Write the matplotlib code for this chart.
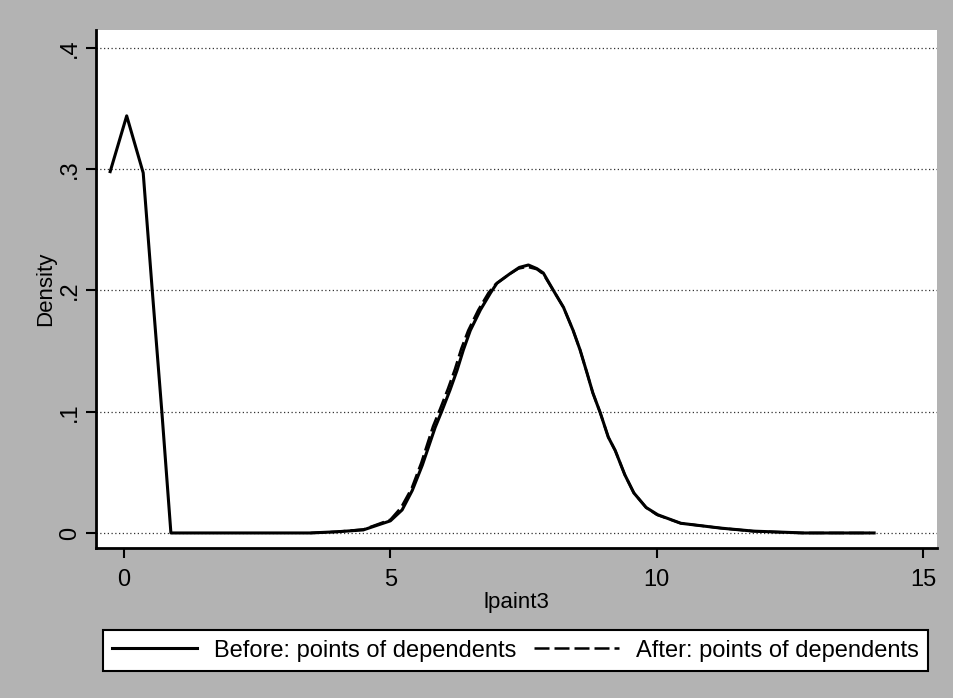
import matplotlib
matplotlib.use("Agg")
import matplotlib.pyplot as plt

plt.rcParams['font.family'] = ['Liberation Sans', 'DejaVu Sans']

# Data
before_x = [-0.26, 0.05, 0.36, 0.53, 0.71, 0.88, 1.5, 2.5, 3.5, 4.0, 4.49, 5.0, 5.22, 5.41, 5.6,
            5.84, 5.97, 6.12, 6.25, 6.37, 6.5, 6.69, 6.88, 7.0, 7.25, 7.42, 7.59, 7.75, 7.87,
            8.06, 8.25, 8.43, 8.56, 8.69, 8.8, 8.94, 9.09, 9.22, 9.4, 9.57, 9.8, 10.02,
            10.45, 11.2, 11.82, 12.76, 14.08]
before_y = [0.298, 0.344, 0.297, 0.200, 0.100, 0.0, 0.0, 0.0, 0.0, 0.001, 0.0025, 0.010, 0.019,
            0.035, 0.056, 0.087, 0.101, 0.118, 0.134, 0.151, 0.167, 0.184, 0.198, 0.206, 0.214,
            0.219, 0.221, 0.218, 0.2144, 0.200, 0.186, 0.167, 0.151, 0.132, 0.1155, 0.099,
            0.079, 0.068, 0.048, 0.033, 0.021, 0.015, 0.008, 0.004, 0.0015, 0.0, 0.0]
after_x = [3.5, 4.0, 4.5, 5.0, 5.2, 5.4, 5.58, 5.8, 5.93, 6.08, 6.21, 6.33, 6.46, 6.65, 6.84,
           6.97, 7.22, 7.4, 7.57, 7.75, 7.87, 8.06, 8.25, 8.43, 8.56, 8.69, 8.8, 8.94, 9.09,
           9.22, 9.4, 9.57, 9.8, 10.0, 10.45, 11.2, 11.8, 12.7, 14.0]
after_y = [0.0, 0.001, 0.003, 0.011, 0.021, 0.037, 0.058, 0.088, 0.102, 0.119, 0.135, 0.152,
           0.167, 0.184, 0.198, 0.205, 0.213, 0.218, 0.2195, 0.2175, 0.2135, 0.200, 0.186,
           0.167, 0.151, 0.132, 0.1155, 0.099, 0.079, 0.068, 0.048, 0.033, 0.021, 0.015,
           0.008, 0.004, 0.0015, 0.0, 0.0]
xticks = [0, 5, 10, 15]
yticks = [0, 0.1, 0.2, 0.3, 0.4]
ytick_labels = ['0', '.1', '.2', '.3', '.4']
series_labels = ['Before: points of dependents', 'After: points of dependents']
xlabel = 'lpaint3'
ylabel = 'Density'

fig = plt.figure(figsize=(9.54, 6.98), dpi=100, facecolor='#b3b3b3')
ax = fig.add_axes([96/954, 150/698, (937-96)/954, (548-30)/698])
ax.set_facecolor('white')

for y in yticks:
    ax.axhline(y, color='#333333', lw=0.9, ls=(0, (1, 2)), zorder=1)

l1, = ax.plot(before_x, before_y, color='black', lw=2.2, zorder=3, label=series_labels[0])
l2, = ax.plot(after_x, after_y, color='black', lw=1.8, ls=(0, (6, 2)), zorder=4,
              label=series_labels[1])

ax.set_xlim(-0.526, 15.26)
ax.set_ylim(-0.0124, 0.4148)
ax.set_xticks(xticks)
ax.set_yticks(yticks)
ax.set_yticklabels(ytick_labels, rotation=90, va='center')
ax.tick_params(axis='both', labelsize=17, length=7, width=1.5, direction='out', color='black')
ax.tick_params(axis='y', pad=4)
ax.tick_params(axis='x', pad=8)
for s in ['top', 'right']:
    ax.spines[s].set_visible(False)
for s in ['left', 'bottom']:
    ax.spines[s].set_linewidth(2)
ax.set_xlabel(xlabel, fontsize=16, labelpad=1)
ax.set_ylabel(ylabel, fontsize=16, labelpad=2)

leg = fig.legend(handles=[l1, l2], loc='center', ncol=2, mode='expand',
                 bbox_to_anchor=(103/954, 25/698, 825/954, 45/698),
                 fontsize=17, handlelength=3.6, frameon=True, fancybox=False,
                 edgecolor='black', facecolor='white', framealpha=1, borderaxespad=0,
                 columnspacing=1.0, handletextpad=0.7)
leg.get_frame().set_linewidth(1.5)

fig.savefig('out.png', dpi=100, facecolor=fig.get_facecolor())
